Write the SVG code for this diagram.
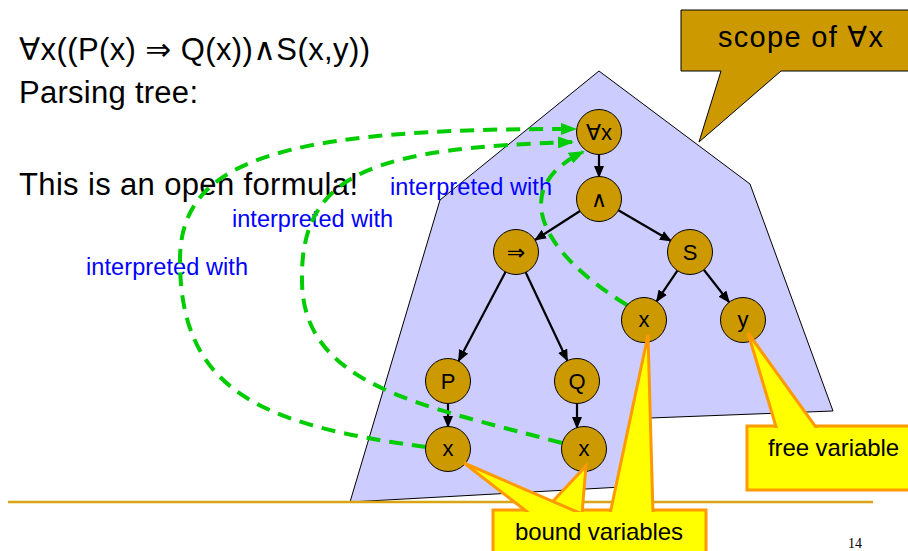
<svg xmlns="http://www.w3.org/2000/svg" width="908" height="551" viewBox="0 0 908 551">
<defs>
<style>
.t{font-family:"Liberation Sans",Arial,"DejaVu Sans",sans-serif;fill:#000}
.big{font-size:31px}
.blue{font-size:23.5px;fill:#0000FF}
.lab{font-size:24px}
.nd circle{fill:#CC9900;stroke:#000;stroke-width:1}
.nd text{font-family:"Liberation Sans",Arial,"DejaVu Sans",sans-serif;font-size:22px;text-anchor:middle}
.edge{stroke:#000;stroke-width:2.2;fill:none;marker-end:url(#ah)}
.bind{stroke:#00CC00;stroke-width:4;fill:none;stroke-dasharray:14 9;marker-end:url(#gh)}
.yel{fill:#FFFF00;stroke:#FF9900;stroke-width:3;stroke-linejoin:miter}
.yelf{fill:#FFFF00;stroke:none}
</style>
<marker id="ah" markerUnits="userSpaceOnUse" markerWidth="12" markerHeight="10" refX="11" refY="5" orient="auto"><path d="M0,0 L12,5 L0,10 z" fill="#000"/></marker>
<marker id="gh" markerUnits="userSpaceOnUse" markerWidth="16" markerHeight="12" refX="14" refY="6" orient="auto"><path d="M0,0 L16,6 L0,12 z" fill="#00CC00"/></marker>
</defs>
<rect width="908" height="551" fill="#fff"/>
<polygon id="scope" points="599,71 750,184 833,411 650,418 640,486 350,502 440,200" fill="#CCCCFF" stroke="#000" stroke-width="1"/>
<line x1="8" y1="502" x2="873" y2="502" stroke="#D9A514" stroke-width="2.5"/>
<text class="t big" x="19" y="60" textLength="351" lengthAdjust="spacing">∀x((P(x) ⇒ Q(x))∧S(x,y))</text>
<text class="t big" x="19" y="103" textLength="179" lengthAdjust="spacing">Parsing tree:</text>
<text class="t big" x="19" y="195" textLength="339" lengthAdjust="spacing">This is an open formula!</text>
<text class="t blue" x="390" y="195" textLength="162" lengthAdjust="spacing">interpreted with</text>
<text class="t blue" x="232" y="227" textLength="161" lengthAdjust="spacing">interpreted with</text>
<text class="t blue" x="86" y="275" textLength="162" lengthAdjust="spacing">interpreted with</text>
<g id="connectors">
<line class="edge" x1="599" y1="154.5" x2="599" y2="177"/>
<line class="edge" x1="580" y1="211" x2="535" y2="240"/>
<line class="edge" x1="618.4" y1="210.3" x2="671" y2="241"/>
<line class="edge" x1="505.5" y1="272" x2="458.5" y2="361"/>
<line class="edge" x1="525.6" y1="272.3" x2="567.4" y2="360.7"/>
<line class="edge" x1="677.4" y1="270.6" x2="656.6" y2="301.4"/>
<line class="edge" x1="703.8" y1="269.8" x2="729.2" y2="302.2"/>
<line class="edge" x1="448" y1="403.5" x2="448" y2="427"/>
<line class="edge" x1="577" y1="403.5" x2="577" y2="428"/>
<path class="bind" d="M426,447 C260,425 180,390 180,260 C180,160 280,128 575,129"/>
<path class="bind" d="M562,443 C420,405 302,385 302,280 C300,170 380,148 572,142"/>
<path class="bind" d="M627,305 C545,255 505,190 583,152"/>
</g>
<g id="n-forall" class="nd"><circle cx="599" cy="132" r="22.5"/><text x="599" y="140">∀x</text></g>
<g id="n-and" class="nd"><circle cx="599" cy="199" r="22.5"/><text x="599" y="207">∧</text></g>
<g id="n-impl" class="nd"><circle cx="516" cy="252" r="22.5"/><text x="516" y="260">⇒</text></g>
<g id="n-S" class="nd"><circle cx="690" cy="252" r="22.5"/><text x="690" y="260">S</text></g>
<g id="n-x3" class="nd"><circle cx="644" cy="320" r="22.5"/><text x="644" y="327">x</text></g>
<g id="n-y" class="nd"><circle cx="743" cy="320" r="22.5"/><text x="743" y="327">y</text></g>
<g id="n-P" class="nd"><circle cx="448" cy="381" r="22.5"/><text x="448" y="389">P</text></g>
<g id="n-Q" class="nd"><circle cx="577" cy="381" r="22.5"/><text x="577" y="389">Q</text></g>
<g id="n-x1" class="nd"><circle cx="448" cy="449" r="22.5"/><text x="448" y="456">x</text></g>
<g id="n-x2" class="nd"><circle cx="584" cy="449" r="22.5"/><text x="584" y="456">x</text></g>
<g id="c-scope">
<polygon points="681,10 915,10 915,71 781,71 699,142 721,71 681,71" fill="#CC9900" stroke="#000" stroke-width="1"/>
<text class="t" x="718" y="47" font-size="29" textLength="165" lengthAdjust="spacing">scope of ∀x</text>
</g>
<g id="c-bound">
<rect class="yel" x="493" y="510" width="213" height="60"/>
<polygon class="yel" points="541,514 586,466 582,514"/>
<polygon class="yel" points="610,514 648,335 653,514"/>
<polygon class="yel" points="530,514 464,463 582,514"/>
<rect class="yelf" x="495" y="512" width="209" height="50"/>
<text class="t lab" x="515" y="540" textLength="168" lengthAdjust="spacing">bound variables</text>
</g>
<g id="c-free">
<rect class="yel" x="747" y="426" width="170" height="64"/>
<polygon class="yel" points="777,430 748,333 818,430"/>
<rect class="yelf" x="749" y="428" width="170" height="60"/>
<text class="t lab" x="768" y="456" textLength="131" lengthAdjust="spacing">free variable</text>
</g>
<text x="848" y="548" font-family="'Liberation Serif','Times New Roman',serif" font-size="14" fill="#000">14</text>
</svg>
